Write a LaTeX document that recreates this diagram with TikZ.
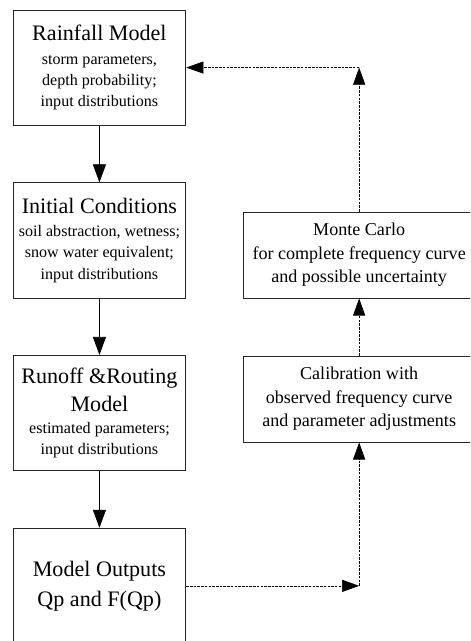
\documentclass[tikz,border=0pt]{standalone}
\usepackage{fontspec}
\setmainfont{Liberation Serif}
\usepackage{tikz}
\usetikzlibrary{arrows.meta}

\newcommand{\headtxt}[1]{{\fontsize{22}{21}\selectfont #1}}

\tikzset{
  stage/.style={draw=black!85, line width=0.9pt, minimum width=6.05cm, minimum height=4.03cm,
    align=center, inner sep=0pt, font=\fontsize{16}{21}\selectfont},
  loopbox/.style={draw=black!85, line width=0.9pt, minimum width=8.12cm, minimum height=3.01cm,
    align=center, inner sep=0pt, font=\fontsize{18}{23.5}\selectfont},
  flow/.style={line width=0.8pt, -{Triangle[length=18pt,width=13pt]}},
  feedback/.style={line width=0.6pt, dash pattern=on 2.5pt off 1.2pt, -{Triangle[length=17pt,width=12pt]}}
}

\begin{document}
\begin{tikzpicture}
\useasboundingbox (0,0) rectangle (16.45,22.435);
\clip (0,0) rectangle (16.45,22.435);
\node[stage] (rainfall) at (3.48,20.07)
  {\headtxt{Rainfall Model}\\[2pt] storm parameters,\\ depth probability;\\ input distributions};
\node[stage] (initial) at (3.48,14.02)
  {\headtxt{Initial Conditions}\\[2pt] soil abstraction, wetness;\\ snow water equivalent;\\ input distributions};
\node[stage] (runoff) at (3.48,7.98)
  {\headtxt{Runoff \&Routing}\\[7pt] \headtxt{Model}\\[1pt] estimated parameters;\\ input distributions};
\node[stage] (outputs) at (3.48,1.93)
  {\headtxt{Model Outputs}\\[9pt] \headtxt{Qp and F(Qp)}};
\node[loopbox] (monte) at (12.57,13.51)
  {Monte Carlo\\ for complete frequency curve\\ and possible uncertainty};
\node[loopbox] (calib) at (12.57,8.47)
  {Calibration with\\ observed frequency curve\\ and parameter adjustments};
\coordinate (lowturn) at (calib |- outputs.east);
\coordinate (highturn) at (monte |- rainfall.east);
\draw[flow] (rainfall.south) -- (initial.north);
\draw[flow] (initial.south) -- (runoff.north);
\draw[flow] (runoff.south) -- (outputs.north);
\draw[feedback] (outputs.east) -- (lowturn);
\draw[feedback] (lowturn) -- (calib.south);
\draw[feedback] (calib.north) -- (monte.south);
\draw[feedback] (monte.north) -- (highturn);
\draw[feedback] (highturn) -- (rainfall.east);
\end{tikzpicture}
\end{document}
